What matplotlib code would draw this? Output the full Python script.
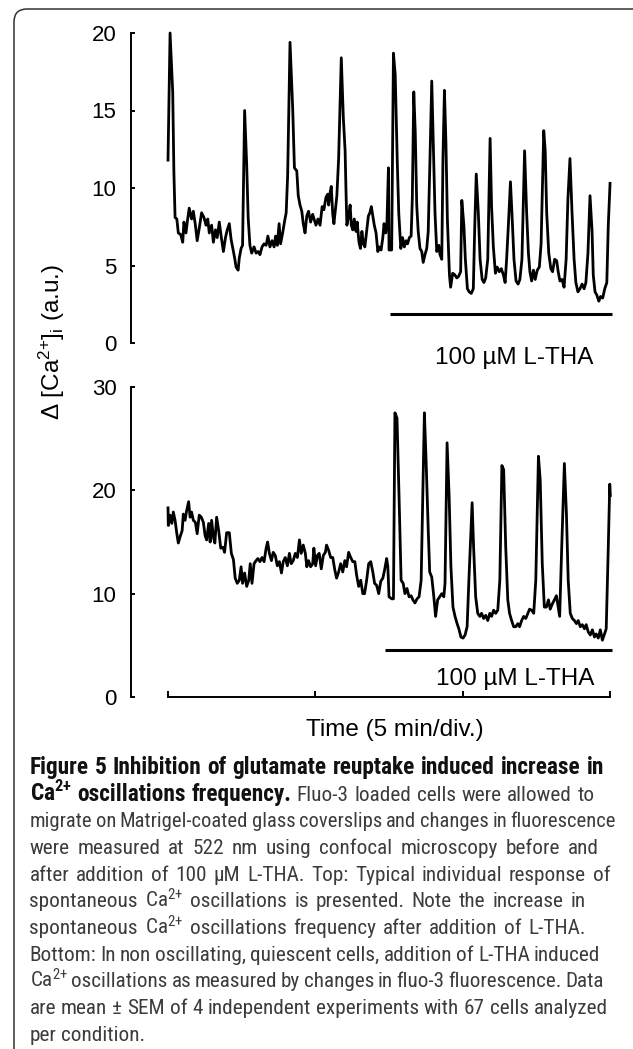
import matplotlib
matplotlib.use('Agg')
import matplotlib.pyplot as plt
from matplotlib import font_manager
from matplotlib.patches import FancyBboxPatch
from matplotlib.transforms import IdentityTransform

# Top: spontaneous oscillations (time in min, delta [Ca2+]i in a.u.)
t_top = [0.00, 0.07, 0.16, 0.20, 0.24, 0.30, 0.35, 0.43, 0.50, 0.54, 0.61, 0.66, 0.72, 0.80, 0.86, 0.93,
         0.99, 1.06, 1.14, 1.22, 1.29, 1.35, 1.40, 1.48, 1.54, 1.61, 1.67, 1.74, 1.81, 1.88, 1.95, 2.01,
         2.08, 2.14, 2.20, 2.26, 2.31, 2.38, 2.42, 2.48, 2.53, 2.60, 2.67, 2.72, 2.78, 2.84, 2.92, 2.99,
         3.06, 3.12, 3.19, 3.26, 3.33, 3.39, 3.46, 3.53, 3.60, 3.65, 3.71, 3.77, 3.82, 3.89, 3.96, 4.01,
         4.06, 4.14, 4.23, 4.29, 4.37, 4.42, 4.48, 4.54, 4.59, 4.65, 4.71, 4.77, 4.84, 4.91, 5.02, 5.09,
         5.16, 5.23, 5.29, 5.36, 5.42, 5.45, 5.50, 5.54, 5.59, 5.63, 5.69, 5.73, 5.79, 5.88, 5.95, 6.01,
         6.04, 6.07, 6.13, 6.18, 6.22, 6.27, 6.32, 6.38, 6.42, 6.48, 6.53, 6.58, 6.63, 6.68, 6.74, 6.80,
         6.85, 6.90, 6.95, 7.00, 7.06, 7.12, 7.17, 7.23, 7.29, 7.33, 7.39, 7.43, 7.48, 7.50, 7.59, 7.65,
         7.71, 7.78, 7.83, 7.90, 7.96, 8.02, 8.08, 8.13, 8.19, 8.25, 8.29, 8.34, 8.39, 8.44, 8.49, 8.55,
         8.61, 8.66, 8.72, 8.78, 8.83, 8.89, 8.95, 9.00, 9.06, 9.12, 9.19, 9.23, 9.29, 9.33, 9.38, 9.43,
         9.48, 9.55, 9.59, 9.66, 9.73, 9.80, 9.86, 9.93, 9.97, 10.04, 10.09, 10.16, 10.22, 10.29, 10.36,
         10.41, 10.46, 10.53, 10.59, 10.66, 10.72, 10.78, 10.85, 10.93, 10.98, 11.04, 11.11, 11.17, 11.24,
         11.31, 11.38, 11.44, 11.49, 11.55, 11.62, 11.68, 11.74, 11.81, 11.88, 11.94, 12.01, 12.10, 12.17,
         12.23, 12.28, 12.34, 12.40, 12.46, 12.53, 12.60, 12.66, 12.75, 12.80, 12.85, 12.92, 12.99, 13.05,
         13.12, 13.19, 13.24, 13.30, 13.37, 13.44, 13.51, 13.57, 13.64, 13.71, 13.78, 13.84, 13.91, 13.98,
         14.05, 14.12, 14.18, 14.25, 14.32, 14.39, 14.43, 14.49, 14.55, 14.62, 14.68, 14.75, 14.82, 14.89,
         14.94, 15.00]
ca_top = [11.8, 20.0, 16.2, 11.0, 8.1, 8.0, 7.1, 7.0, 6.5, 7.8, 7.1, 7.9, 8.7, 8.0, 8.5, 7.6,
          6.6, 7.4, 8.4, 8.1, 7.6, 8.0, 7.1, 7.6, 6.5, 7.3, 6.8, 7.8, 6.8, 5.9, 6.8, 7.3,
          7.7, 6.7, 6.1, 5.5, 4.9, 4.7, 5.5, 6.1, 6.3, 15.0, 11.5, 8.1, 6.3, 5.8, 6.2, 5.8,
          5.9, 5.7, 6.2, 6.4, 6.3, 6.9, 6.2, 6.6, 6.2, 6.9, 6.3, 7.7, 6.4, 7.1, 7.9, 8.4,
          10.8, 19.4, 15.2, 11.3, 11.1, 9.5, 8.9, 8.5, 7.7, 7.1, 8.2, 8.5, 7.8, 8.3, 7.6, 8.0,
          7.6, 8.8, 8.6, 9.4, 9.6, 8.9, 9.7, 10.1, 8.3, 7.7, 8.8, 9.5, 11.9, 18.4, 14.5, 12.4,
          9.8, 7.6, 8.2, 8.9, 7.6, 7.3, 8.0, 7.2, 7.8, 6.5, 6.1, 7.2, 6.4, 6.2, 7.2, 8.2,
          8.4, 8.8, 8.2, 7.6, 7.1, 5.9, 6.2, 6.0, 6.8, 7.7, 7.1, 7.8, 11.3, 6.0, 6.0, 18.7,
          17.3, 11.7, 8.4, 6.1, 6.8, 6.2, 6.6, 6.4, 6.8, 6.9, 9.3, 16.2, 13.6, 8.9, 7.2, 6.1,
          5.9, 5.2, 5.7, 6.1, 7.2, 11.9, 16.9, 13.0, 8.4, 5.9, 6.3, 5.7, 5.4, 11.9, 16.3, 13.0,
          8.0, 4.4, 3.6, 4.5, 4.4, 4.2, 4.3, 4.6, 9.2, 7.6, 5.4, 3.5, 3.3, 3.2, 3.5,
          7.6, 10.9, 8.4, 5.4, 4.1, 3.9, 4.2, 5.4, 13.2, 8.8, 6.2, 4.5, 4.9, 4.6,
          4.8, 4.4, 3.9, 5.4, 7.6, 10.4, 8.0, 5.4, 4.0, 3.8, 4.1, 5.4, 12.4, 8.4,
          5.8, 4.6, 4.0, 4.7, 4.1, 4.7, 4.9, 6.4, 13.7, 12.4, 8.4, 5.8, 4.8, 4.6,
          5.4, 5.3, 4.6, 4.0, 4.1, 3.6, 5.4, 9.3, 11.9, 8.4, 5.4, 3.9, 3.3, 3.5,
          3.8, 3.5, 3.9, 5.8, 9.5, 7.2, 4.4, 3.3, 3.1, 2.7, 3.0, 2.9, 3.5, 3.9,
          7.6, 10.3]

# Bottom: quiescent cells, oscillations induced by L-THA
t_bot = [0.00, 0.01, 0.07, 0.13, 0.18, 0.24, 0.30, 0.35, 0.41, 0.48, 0.52, 0.58, 0.63, 0.70, 0.75, 0.80,
         0.86, 0.93, 0.99, 1.06, 1.13, 1.20, 1.26, 1.31, 1.38, 1.43, 1.48, 1.54, 1.59, 1.65, 1.72, 1.79,
         1.86, 1.92, 1.99, 2.08, 2.15, 2.22, 2.28, 2.35, 2.42, 2.48, 2.53, 2.60, 2.67, 2.74, 2.79, 2.85,
         2.92, 2.99, 3.05, 3.12, 3.19, 3.26, 3.33, 3.38, 3.44, 3.51, 3.57, 3.64, 3.71, 3.78, 3.85, 3.91,
         3.98, 4.05, 4.12, 4.18, 4.25, 4.32, 4.39, 4.46, 4.52, 4.59, 4.66, 4.71, 4.77, 4.84, 4.91, 4.95,
         5.01, 5.07, 5.13, 5.20, 5.27, 5.34, 5.38, 5.45, 5.52, 5.59, 5.66, 5.72, 5.79, 5.86, 5.93, 6.00,
         6.06, 6.13, 6.20, 6.27, 6.34, 6.40, 6.47, 6.54, 6.61, 6.67, 6.74, 6.81, 6.88, 6.95, 7.01, 7.08,
         7.15, 7.22, 7.29, 7.35, 7.42, 7.46, 7.50, 7.59, 7.65, 7.70, 7.77, 7.84, 7.91, 7.98, 8.04, 8.11,
         8.18, 8.25, 8.31, 8.38, 8.45, 8.52, 8.59, 8.70, 8.76, 8.83, 8.88, 8.95, 9.02, 9.08, 9.15, 9.22,
         9.29, 9.36, 9.40, 9.47, 9.54, 9.60, 9.67, 9.74, 9.81, 9.87, 9.94, 10.01, 10.08, 10.15, 10.21,
         10.32, 10.37, 10.44, 10.51, 10.58, 10.64, 10.71, 10.78, 10.85, 10.92, 10.98, 11.05, 11.12, 11.19,
         11.26, 11.33, 11.39, 11.46, 11.53, 11.59, 11.66, 11.73, 11.80, 11.87, 11.93, 12.00, 12.07, 12.14,
         12.21, 12.27, 12.34, 12.41, 12.48, 12.57, 12.63, 12.70, 12.77, 12.84, 12.91, 12.97, 13.04, 13.11,
         13.18, 13.24, 13.29, 13.36, 13.45, 13.52, 13.58, 13.65, 13.72, 13.79, 13.86, 13.92, 13.99, 14.06,
         14.13, 14.19, 14.26, 14.33, 14.40, 14.47, 14.53, 14.60, 14.67, 14.74, 14.81, 14.87, 14.94, 14.99,
         15.01]
ca_bot = [18.3, 16.6, 17.6, 16.8, 17.9, 17.1, 15.8, 14.9, 15.5, 16.1, 17.7, 17.1, 18.0, 18.9, 17.4, 17.9,
          17.1, 16.9, 15.8, 17.6, 17.4, 16.9, 15.6, 15.2, 16.8, 15.0, 17.1, 15.5, 14.9, 17.4, 16.1, 14.4,
          14.5, 14.0, 15.9, 15.9, 13.9, 13.3, 11.5, 11.0, 11.3, 12.6, 11.0, 12.0, 10.7, 11.3, 12.9, 11.0,
          12.9, 13.2, 13.4, 13.1, 13.5, 13.1, 14.4, 15.0, 13.9, 13.2, 14.0, 13.7, 12.7, 13.1, 12.0, 13.1,
          13.5, 12.7, 13.9, 12.9, 13.2, 13.9, 13.5, 15.2, 13.9, 14.7, 13.9, 12.6, 13.2, 12.6, 12.9, 14.4,
          12.7, 13.7, 13.9, 12.4, 13.7, 14.0, 14.7, 14.2, 13.5, 13.5, 12.3, 11.5, 12.1, 12.9, 12.1, 13.2,
          12.6, 14.0, 13.5, 13.1, 13.1, 11.8, 10.7, 11.3, 10.0, 10.0, 11.3, 12.9, 13.1, 12.1, 11.0, 10.8,
          10.0, 11.2, 11.5, 12.3, 13.4, 12.6, 9.7, 9.5, 9.5, 27.5, 27.0, 19.4, 11.3, 11.0, 10.0, 10.5,
          9.7, 9.8, 9.4, 9.1, 9.5, 9.7, 11.3, 27.5, 22.7, 16.2, 12.1, 11.6, 9.7, 7.8, 9.4, 9.7,
          10.0, 9.7, 11.0, 24.6, 19.4, 12.6, 8.7, 7.8, 7.1, 6.6, 5.8, 5.7, 6.0, 6.8, 11.3,
          18.8, 14.5, 9.7, 8.1, 7.8, 8.1, 7.6, 7.9, 7.4, 8.1, 7.8, 8.4, 8.1, 8.4,
          11.3, 22.4, 22.0, 14.5, 9.4, 8.1, 7.4, 6.8, 6.8, 7.1, 6.8, 7.4, 7.8, 7.6,
          8.1, 8.5, 8.4, 8.1, 11.3, 23.3, 21.0, 12.9, 8.7, 8.7, 9.4, 8.5, 9.0, 9.4,
          9.8, 8.7, 7.8, 14.5, 22.6, 17.7, 11.3, 8.1, 7.6, 7.4, 7.1, 7.4, 6.8, 7.0,
          6.6, 7.0, 6.3, 6.0, 6.5, 5.8, 6.1, 5.7, 6.5, 5.5, 6.1, 6.6, 14.5, 20.6,
          19.5]

# 100 uM L-THA application bars: (start, end, level)
tha_top = (7.52, 15.08, 1.85)
tha_bot = (7.35, 15.05, 4.55)

top_ticks = [0, 5, 10, 15, 20]
bot_ticks = [0, 10, 20, 30]
time_ticks = [0, 5, 10, 15]

caption = [
    [("Figure 5 Inhibition of glutamate reuptake induced increase in", True)],
    [("Ca$^{2{+}}$ oscillations frequency.", True), ("Fluo-3 loaded cells were allowed to", False)],
    [("migrate on Matrigel-coated glass coverslips and changes in fluorescence", False)],
    [("were measured at 522 nm using confocal microscopy before and", False)],
    [("after addition of 100 µM L-THA. Top: Typical individual response of", False)],
    [("spontaneous Ca$^{2{+}}$ oscillations is presented. Note the increase in", False)],
    [("spontaneous Ca$^{2{+}}$ oscillations frequency after addition of L-THA.", False)],
    [("Bottom: In non oscillating, quiescent cells, addition of L-THA induced", False)],
    [("Ca$^{2{+}}$ oscillations as measured by changes in fluo-3 fluorescence. Data", False)],
    [("are mean ± SEM of 4 independent experiments with 67 cells analyzed", False)],
    [("per condition.", False)],
]
# right end of each caption line in the reference (px)
caption_ends = [604, 594.7, 614.5, 598.7, 610.4, 585.4, 586.2, 600.3, 603.5, 607.6, None]

plt.rcParams['font.family'] = ['Liberation Sans', 'DejaVu Sans']
plt.rcParams['mathtext.default'] = 'regular'

installed = {f.name for f in font_manager.fontManager.ttflist}
cap_font = 'Lato'
for cand in ['Liberation Sans Narrow', 'Roboto Condensed', 'Open Sans Condensed', 'Lato']:
    if cand in installed:
        cap_font = cand
        break

W, H = 633, 1049
fig = plt.figure(figsize=(W / 100, H / 100), dpi=100)

px_per_min = 29.47
x0_px = 168
xlim = ((131 - x0_px) / px_per_min, (615 - x0_px) / px_per_min)

ax1 = fig.add_axes([131 / W, 1 - 343 / H, 484 / W, 310 / H])
ax2 = fig.add_axes([131 / W, 1 - 697 / H, 484 / W, 310 / H])

for ax, t, ca, bar, ticks in [(ax1, t_top, ca_top, tha_top, top_ticks),
                               (ax2, t_bot, ca_bot, tha_bot, bot_ticks)]:
    ax.plot(t, ca, color='black', lw=2.0, clip_on=False)
    ax.hlines(bar[2], bar[0], bar[1], color='black', lw=2.2, clip_on=False)
    ax.set_xlim(*xlim)
    ax.set_ylim(ticks[0], ticks[-1])
    ax.set_yticks(ticks)
    ax.spines['top'].set_visible(False)
    ax.spines['right'].set_visible(False)
    ax.spines['left'].set_bounds(ticks[0], ticks[-1])
    ax.spines['left'].set_linewidth(1.4)
    ax.spines['bottom'].set_linewidth(1.4)
    ax.tick_params(axis='y', direction='in', length=3, width=1.4, pad=10.5, labelsize=16)
    ax.patch.set_visible(False)

ax1.spines['bottom'].set_visible(False)
ax1.set_xticks([])
ax2.spines['bottom'].set_bounds(time_ticks[0], time_ticks[-1])
ax2.set_xticks(time_ticks)
ax2.tick_params(axis='x', direction='in', length=4, width=1.4, labelbottom=False)

fig.text(513.7 / W, 1 - 364.5 / H, '100 µM L-THA', ha='center', va='baseline', fontsize=17.5)
fig.text(515.5 / W, 1 - 685 / H, '100 µM L-THA', ha='center', va='baseline', fontsize=17.5)
fig.text(394.6 / W, 1 - 730 / H, 'Time (5 min/div.)', ha='center', va='center', fontsize=17.5)
fig.text(52 / W, 1 - 342 / H, 'Δ [Ca$^{2{+}}$]$_{i}$ (a.u.)', rotation=90,
         ha='center', va='center', fontsize=17.5)

# caption: one artist per word, chained along each line
cap_ax = fig.add_axes([0, 0, 1, 1])
cap_ax.axis('off')
x_left = 29.5
cap_lines = []
for i, pieces in enumerate(caption):
    yb = 1 - (774 + i * 26.67) / H
    prev = None
    row = []
    for txt, bold in pieces:
        for word in txt.split(' '):
            kw = dict(fontsize=14, family=[cap_font, 'DejaVu Sans'],
                      weight='bold' if bold else 'normal',
                      color='#111111' if bold else '#3c3c3c', va='baseline', ha='left')
            if prev is None:
                a = cap_ax.text(x_left / W, yb, word, transform=fig.transFigure, **kw)
            else:
                a = cap_ax.annotate(word, xy=(1, yb), xycoords=(prev, 'figure fraction'),
                                    xytext=(4, 0), textcoords='offset pixels', **kw)
            a.bold = bold
            row.append(a)
            prev = a
    cap_lines.append(row)

r = fig.canvas.get_renderer()


def word_widths(row):
    return [a.get_window_extent(r).width for a in row]


def space_px(a):
    fp = a.get_fontproperties()
    w2, _, _ = r.get_text_width_height_descent('x x', fp, ismath=False)
    w1, _, _ = r.get_text_width_height_descent('xx', fp, ismath=False)
    return w2 - w1


# one font size for regular text, one for bold, from natural line widths
fig.canvas.draw()
reg_scales, bold_scales = [], []
for row, end in zip(cap_lines, caption_ends):
    if end is None:
        continue
    natural = sum(word_widths(row)) + space_px(row[0]) * (len(row) - 1)
    s = (end - x_left) / natural
    if all(a.bold for a in row):
        bold_scales.append(s)
    elif not any(a.bold for a in row):
        reg_scales.append(s)
s_reg = 14 * sum(reg_scales) / len(reg_scales)
s_bold = 14 * sum(bold_scales) / len(bold_scales)
for row in cap_lines:
    for a in row:
        a.set_fontsize(s_bold if a.bold else s_reg)

# word gaps take up most of the difference, the font size only the rest
fig.canvas.draw()
for row, end in zip(cap_lines, caption_ends):
    if len(row) < 2:
        continue
    sp = space_px(row[-1])
    n = len(row) - 1
    w0 = sum(word_widths(row))
    if end is None:
        gap, f = sp, 1.0
    else:
        gap = (end - x_left - w0) / n
        gap = min(max(gap, 0.75 * sp), 1.6 * sp)
        f = (end - x_left - n * gap) / w0
    for k, a in enumerate(row):
        a.set_fontsize(a.get_fontsize() * f)
        if k > 0:
            a.xyann = (gap, 0)

frame = FancyBboxPatch((14, -60), 700, 1040 + 60, boxstyle='round,pad=0,rounding_size=13',
                       transform=IdentityTransform(), fill=False, lw=1.1, ec='#333333')
fig.add_artist(frame)

fig.savefig('out.png', dpi=100)
